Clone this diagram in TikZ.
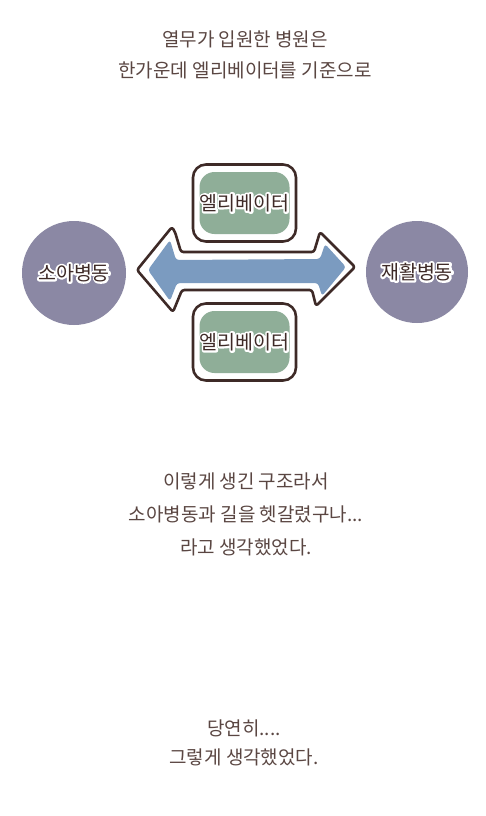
\documentclass[tikz,border=0pt]{standalone}
\usepackage{fontspec}
\newfontfamily\kor{Noto Sans CJK KR}
\usetikzlibrary{shapes.geometric}
\definecolor{txtbrown}{HTML}{5A4642}
\definecolor{outl}{HTML}{3E2A27}
\definecolor{wardgray}{HTML}{8B88A4}
\definecolor{arrowblue}{HTML}{7B9BC0}
\definecolor{elegreen}{HTML}{8FAE98}
\newcommand{\halotext}[1]{\rlap{\color{white}\special{pdf:literal direct 2 Tr 4 w 1 j 1 1 1 RG}#1\special{pdf:literal direct 0 Tr 1 w}}\textcolor{outl}{#1}}
\tikzset{
  caption/.style={font=\kor\fontsize{19}{31}\selectfont, text=txtbrown, align=center, inner sep=0pt},
  ward/.style={circle, fill=wardgray, minimum size=#1, inner sep=0pt},
  wardlabel/.style={font=\kor\fontsize{19.5}{22}\selectfont, inner sep=0pt},
  elebox/.style={draw=outl, line width=2.6pt, fill=white, rounded corners=13pt, minimum width=103pt, minimum height=77pt},
  elescreen/.style={fill=elegreen, rounded corners=15pt, minimum width=90pt, minimum height=62pt},
  outline/.style={draw=outl, line width=2.6pt, fill=white, rounded corners=2.5pt, line join=round},
  inner/.style={fill=arrowblue, rounded corners=3pt}
}
\begin{document}
\begin{tikzpicture}[x=1pt,y=-1pt]
\useasboundingbox (0,0) rectangle (486,816);
\fill[white] (0,0) rectangle (486,816);

% title
\node[caption] (title) at (245,55) {열무가 입원한 병원은\\한가운데 엘리베이터를 기준으로};

% wards
\node[ward=104pt] (left) at (74,273) {};
\node[wardlabel] (leftlabel) at (left.center) {\halotext{소아병동}};
\node[ward=102pt] (right) at (417,272) {};
\node[wardlabel] (rightlabel) at (right.center) {\halotext{재활병동}};

% double arrow
\coordinate (ltip) at (137,270);
\coordinate (rtip) at (355,267);
\filldraw[outline] (ltip) -- (172,227) -- (175,232) -- (181,252) -- (314,252) -- (320,232) -- (rtip) -- (316,306) -- (312,290) -- (182,290) -- (173,312) -- cycle;
\fill[inner] (148,270) -- (170,240) -- (176,260) -- (320,259) -- (325,244) -- (346,267) -- (322,296) -- (318,283) -- (177,283) -- (170,301) -- cycle;

% elevators
\node[elebox] (eletop) at (244.5,203) {};
\node[elescreen] (scrtop) at (eletop.center) {};
\node[wardlabel] (eletoplabel) at (eletop.center) {\halotext{엘리베이터}};
\node[elebox] (elebot) at (244.5,342) {};
\node[elescreen] (scrbot) at (elebot.center) {};
\node[wardlabel] (elebotlabel) at (elebot.center) {\halotext{엘리베이터}};

% middle text
\node[caption, font=\kor\fontsize{19}{33}\selectfont] (mid) at (246,514) {이렇게 생긴 구조라서\\소아병동과 길을 헷갈렸구나...\\라고 생각했었다.};

% bottom text
\node[caption, font=\kor\fontsize{19}{29}\selectfont] (bottom) at (244,743) {당연히....\\그렇게 생각했었다.};
\end{tikzpicture}
\end{document}
